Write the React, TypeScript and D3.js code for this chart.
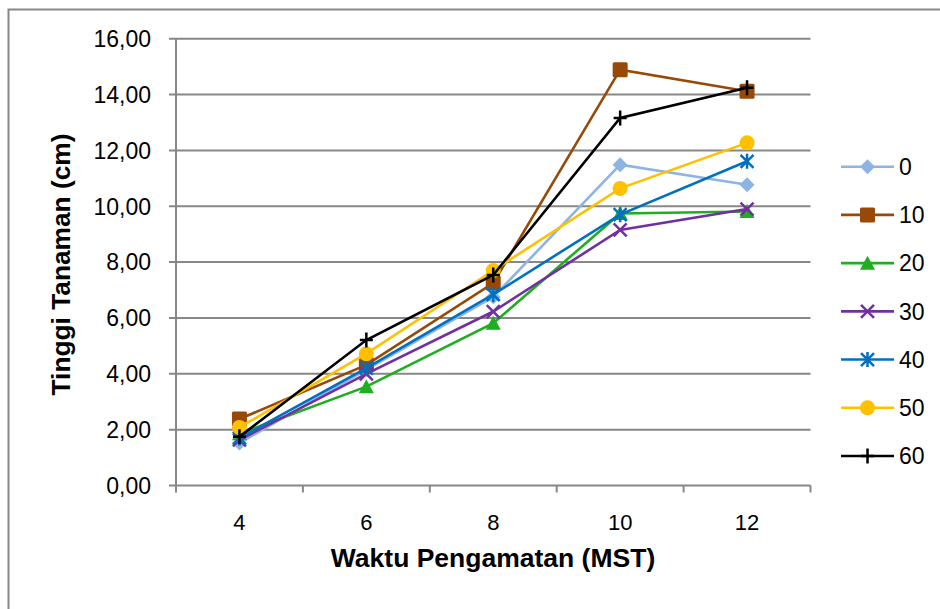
import * as d3 from "d3";

// Weeks after planting (x categories)
const weeks = ["4", "6", "8", "10", "12"];
const yTicks = [0, 2, 4, 6, 8, 10, 12, 14, 16];

// plant height (cm) per treatment
const s0 = [1.52, 4.15, 6.75, 11.49, 10.77];
const s10 = [2.38, 4.32, 7.25, 14.89, 14.12];
const s20 = [1.85, 3.54, 5.81, 9.74, 9.81];
const s30 = [1.63, 4.0, 6.23, 9.15, 9.9];
const s40 = [1.7, 4.2, 6.84, 9.7, 11.61];
const s50 = [2.08, 4.72, 7.7, 10.64, 12.27];
const s60 = [1.75, 5.21, 7.54, 13.16, 14.24];

const series = [
  { name: "0", values: s0, color: "#8db4e2", marker: "diamond" },
  { name: "10", values: s10, color: "#984807", marker: "square" },
  { name: "20", values: s20, color: "#1fae1f", marker: "triangle" },
  { name: "30", values: s30, color: "#7030a0", marker: "x" },
  { name: "40", values: s40, color: "#0070c0", marker: "star" },
  { name: "50", values: s50, color: "#ffc000", marker: "circle" },
  { name: "60", values: s60, color: "#000000", marker: "plus" },
];

const W = 940;
const H = 609;
const plot = { left: 176, right: 810.5, top: 38.7, bottom: 485.5 };
const grid = "#878787";
const font = "'Liberation Sans', Arial, sans-serif";

const x = d3.scaleBand().domain(weeks).range([plot.left, plot.right]).padding(0);
const y = d3.scaleLinear().domain([0, 16]).range([plot.bottom, plot.top]);
const fmt = d3.formatLocale({ decimal: ",", thousands: ".", grouping: [3], currency: ["", ""] }).format(".2f");

const line = d3
  .line<number>()
  .x((_, i) => (x(weeks[i]) as number) + x.bandwidth() / 2)
  .y((d) => y(d));

function Marker({ kind, cx, cy, color }: { kind: string; cx: number; cy: number; color: string }) {
  const r = 7.5;
  if (kind === "diamond") {
    return <path d={`M${cx},${cy - r}L${cx + r},${cy}L${cx},${cy + r}L${cx - r},${cy}Z`} fill={color} />;
  }
  if (kind === "square") {
    return <rect x={cx - r} y={cy - r} width={2 * r} height={2 * r} rx={1.5} fill={color} />;
  }
  if (kind === "triangle") {
    return <path d={`M${cx},${cy - r}L${cx + r},${cy + r - 1}L${cx - r},${cy + r - 1}Z`} fill={color} />;
  }
  if (kind === "circle") {
    return <circle cx={cx} cy={cy} r={r} fill={color} />;
  }
  const a = 6.5;
  if (kind === "x") {
    return (
      <path d={`M${cx - a},${cy - a}L${cx + a},${cy + a}M${cx - a},${cy + a}L${cx + a},${cy - a}`} stroke={color} strokeWidth={2.5} />
    );
  }
  if (kind === "star") {
    return (
      <path
        d={`M${cx - a},${cy - a}L${cx + a},${cy + a}M${cx - a},${cy + a}L${cx + a},${cy - a}M${cx},${cy - a - 1}L${cx},${cy + a + 1}`}
        stroke={color}
        strokeWidth={2.5}
      />
    );
  }
  // plus
  return <path d={`M${cx - a},${cy}L${cx + a},${cy}M${cx},${cy - a - 1}L${cx},${cy + a + 1}`} stroke={color} strokeWidth={2.5} />;
}

export default function App() {
  const legendY = d3.scalePoint().domain(series.map((s) => s.name)).range([166.7, 456]);

  return (
    <svg width={W} height={H} style={{ position: "absolute", left: 0, top: 0, background: "#fff" }}>
      <rect x={0} y={0} width={W} height={H} fill="#fff" />
      {/* outer chart border */}
      <path d={`M8.5,${H + 5}V9.5H${W + 5}`} fill="none" stroke={grid} strokeWidth={2} />

      {/* gridlines + y ticks */}
      {yTicks.map((t) => (
        <g key={t}>
          <line x1={plot.left - 7} x2={plot.right} y1={y(t)} y2={y(t)} stroke={grid} strokeWidth={2} />
          <text
            x={151}
            y={y(t)}
            dy="0.36em"
            textAnchor="end"
            fontFamily={font}
            fontSize={23}
            fill="#000"
          >
            {fmt(t)}
          </text>
        </g>
      ))}
      {/* y axis */}
      <line x1={plot.left} x2={plot.left} y1={plot.top} y2={plot.bottom} stroke={grid} strokeWidth={2} />
      {/* x axis ticks at band edges */}
      {[...weeks.map((w) => x(w) as number), plot.right].map((px, i) => (
        <line key={i} x1={px} x2={px} y1={plot.bottom} y2={plot.bottom + 7} stroke={grid} strokeWidth={2} />
      ))}
      {weeks.map((w) => (
        <text
          key={w}
          x={(x(w) as number) + x.bandwidth() / 2}
          y={529.5}
          textAnchor="middle"
          fontFamily={font}
          fontSize={22}
          fill="#000"
        >
          {w}
        </text>
      ))}

      {/* axis titles */}
      <text x={493} y={567} textAnchor="middle" fontFamily={font} fontWeight="bold" fontSize={26.5} fill="#000">
        Waktu Pengamatan (MST)
      </text>
      <text
        transform="translate(69.5,264.5) rotate(-90)"
        textAnchor="middle"
        fontFamily={font}
        fontWeight="bold"
        fontSize={26.3}
        fill="#000"
      >
        Tinggi Tanaman (cm)
      </text>

      {/* series */}
      {series.map((s) => (
        <g key={s.name}>
          <path d={line(s.values) as string} fill="none" stroke={s.color} strokeWidth={2.6} />
          {s.values.map((v, i) => (
            <Marker key={i} kind={s.marker} cx={(x(weeks[i]) as number) + x.bandwidth() / 2} cy={y(v)} color={s.color} />
          ))}
        </g>
      ))}

      {/* legend */}
      {series.map((s) => {
        const ly = legendY(s.name) as number;
        return (
          <g key={s.name}>
            <line x1={841} x2={894} y1={ly} y2={ly} stroke={s.color} strokeWidth={2.6} />
            <Marker kind={s.marker} cx={867.5} cy={ly} color={s.color} />
            <text x={899} y={ly} dy="0.36em" fontFamily={font} fontSize={23} fill="#000">
              {s.name}
            </text>
          </g>
        );
      })}
    </svg>
  );
}
